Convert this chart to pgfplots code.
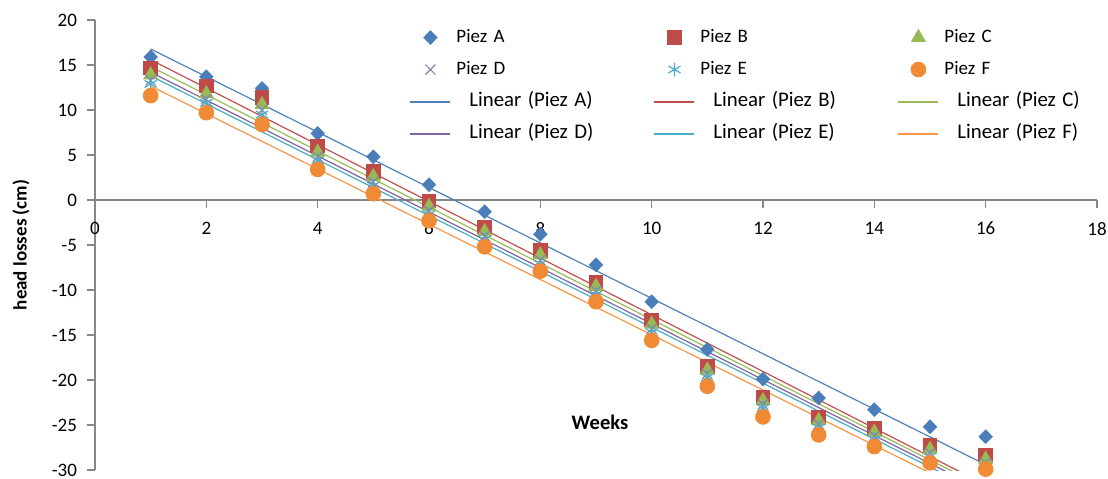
\documentclass[border=0pt]{standalone}
\usepackage{pgfplots}
\pgfplotsset{compat=1.18}
\usepackage{pgfplotstable}
\usepackage{fontspec}
\setmainfont{Carlito}

\definecolor{cA}{HTML}{4A7EBB}
\definecolor{cB}{HTML}{BE4B48}
\definecolor{cC}{HTML}{98B954}
\definecolor{cD}{HTML}{8A80B0}
\definecolor{cE}{HTML}{4BACC6}
\definecolor{cF}{HTML}{F08A35}
\definecolor{trA}{HTML}{4F81BD}
\definecolor{trB}{HTML}{C0504D}
\definecolor{trC}{HTML}{9BBB59}
\definecolor{trD}{HTML}{8064A2}
\definecolor{trE}{HTML}{4BACC6}
\definecolor{trF}{HTML}{F79646}
\definecolor{axisgray}{HTML}{868686}

\pgfplotstableread{
x A B C D E F
1 15.9 14.7 13.9 13.3 12.9 11.6
2 13.7 12.7 11.8 11.2 10.8 9.7
3 12.4 11.4 10.6 10.0 9.5 8.4
4 7.4 6.0 5.3 4.8 4.4 3.4
5 4.8 3.2 2.6 2.0 1.6 0.7
6 1.7 -0.1 -0.7 -1.2 -1.6 -2.3
7 -1.3 -3.0 -3.5 -4.0 -4.4 -5.2
8 -3.8 -5.6 -6.1 -6.7 -7.1 -7.9
9 -7.2 -9.1 -9.6 -10.1 -10.5 -11.3
10 -11.3 -13.3 -13.8 -14.3 -14.7 -15.6
11 -16.6 -18.5 -18.9 -19.3 -19.7 -20.7
12 -19.9 -21.9 -22.3 -22.7 -23.1 -24.1
13 -22.0 -24.1 -24.5 -24.9 -25.3 -26.1
14 -23.3 -25.4 -25.8 -26.2 -26.6 -27.4
15 -25.2 -27.2 -27.7 -28.1 -28.5 -29.2
16 -26.3 -28.3 -28.8 -29.2 -29.6 -29.9
}\data

\pgfplotsset{
  markleg/.style={legend image code/.code={\draw[##1,mark repeat=1] plot coordinates {(10pt,0pt)};}},
}
\newcommand{\lin}[1]{\hspace*{9pt}{\fontsize{10.4}{12}\selectfont Linear (Piez #1)}}
\newcommand{\linimg}[1]{\addlegendimage{legend image code/.code={\draw[#1, line width=1pt] (0pt,0pt) -- (20pt,0pt);}}}

\begin{document}
\begin{tikzpicture}[font=\fontsize{9.5}{11}\selectfont]
\path[use as bounding box] (-47.5pt,-4pt) rectangle (506.5pt,235pt);
\begin{axis}[
  at={(0,0)}, anchor=south west, scale only axis,
  width=501pt, height=225pt,
  xmin=0, xmax=18, ymin=-30, ymax=20,
  xtick={0,2,...,18}, ytick={-30,-25,...,20},
  axis x line*=middle, axis y line*=left,
  hide obscured x ticks=false,
  axis line style={draw=axisgray, line width=0.6pt},
  tick style={draw=axisgray, line width=0.6pt},
  tick align=outside, major tick length=4pt,
  /pgf/number format/assume math mode=true,
  xticklabel style={yshift=-3.5pt},
  yticklabel style={xshift=-1.5pt},
  every axis x label/.style={at={(rel axis cs:0.504,0.107)}, anchor=center},
  every axis y label/.style={at={(rel axis cs:0,0.5)}, xshift=-37pt, rotate=90, anchor=center},
  xlabel={\fontsize{10.3}{12}\selectfont\textbf{Weeks}},
  ylabel={\textbf{head losses (cm)}},
  legend columns=3,
  legend cell align=left,
  legend style={draw=none, fill=none, inner sep=0pt, at={(rel axis cs:0.3134,0.983)}, anchor=north west,
    row sep=6.5pt, column sep=0pt,
    nodes={inner sep=0pt, text width=101pt, text height=7pt, text depth=2.5pt}},
]
\addplot[only marks, mark=diamond*, mark size=3.4pt, mark options={xscale=1.3, draw=cA, fill=cA}, markleg] table[x=x,y=A] {\data};
\addlegendentry{\hspace*{2.5pt}Piez A}
\addplot[only marks, mark=square*, mark size=3.4pt, mark options={draw=cB, fill=cB}, markleg] table[x=x,y=B] {\data};
\addlegendentry{\hspace*{2.5pt}Piez B}
\addplot[only marks, mark=triangle*, mark size=4pt, mark options={draw=cC, fill=cC}, markleg] table[x=x,y=C] {\data};
\addlegendentry{\hspace*{2.5pt}Piez C}
\addplot[only marks, mark=x, mark size=3.5pt, mark options={draw=cD, line width=0.6pt}, markleg] table[x=x,y=D] {\data};
\addlegendentry{\hspace*{2.5pt}Piez D}
\addplot[only marks, mark=asterisk, mark size=3.5pt, mark options={draw=cE, line width=0.6pt}, markleg] table[x=x,y=E] {\data};
\addlegendentry{\hspace*{2.5pt}Piez E}
\addplot[only marks, mark=*, mark size=3.7pt, mark options={draw=cF, fill=cF}, markleg] table[x=x,y=F] {\data};
\addlegendentry{\hspace*{2.5pt}Piez F}

\addplot[no marks, line width=0.6pt, draw=trA, forget plot] table[x=x, y={create col/linear regression={y=A}}] {\data};
\addplot[no marks, line width=0.6pt, draw=trB, forget plot] table[x=x, y={create col/linear regression={y=B}}] {\data};
\addplot[no marks, line width=0.6pt, draw=trC, forget plot] table[x=x, y={create col/linear regression={y=C}}] {\data};
\addplot[no marks, line width=0.6pt, draw=trD, forget plot] table[x=x, y={create col/linear regression={y=D}}] {\data};
\addplot[no marks, line width=0.6pt, draw=trE, forget plot] table[x=x, y={create col/linear regression={y=E}}] {\data};
\addplot[no marks, line width=0.6pt, draw=trF, forget plot] table[x=x, y={create col/linear regression={y=F}}] {\data};

\linimg{trA}\addlegendentry{\lin{A}}
\linimg{trB}\addlegendentry{\lin{B}}
\linimg{trC}\addlegendentry{\lin{C}}
\linimg{trD}\addlegendentry{\lin{D}}
\linimg{trE}\addlegendentry{\lin{E}}
\linimg{trF}\addlegendentry{\lin{F}}
\end{axis}
\end{tikzpicture}
\end{document}
